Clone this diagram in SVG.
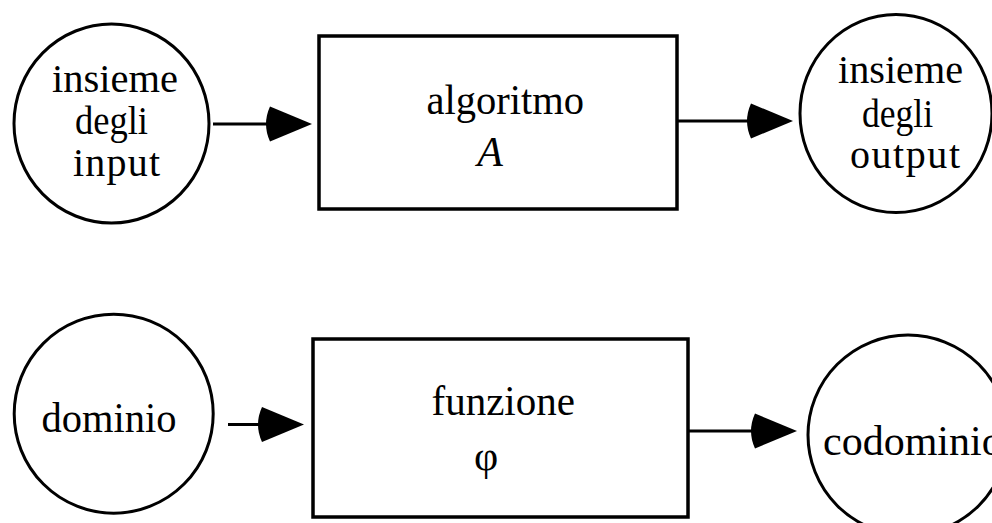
<svg xmlns="http://www.w3.org/2000/svg" width="992" height="523" viewBox="0 0 992 523">
<style>
.node{fill:#fff;stroke:#000;stroke-width:3}
.box{fill:#fff;stroke:#000;stroke-width:3.5}
.t{font-family:"Liberation Serif","Times New Roman",serif;fill:#000}
.c{font-size:40px}
.b{font-size:42px}
.edge{stroke:#000;stroke-width:3;fill:none;marker-end:url(#ah)}
</style>
<defs>
<marker id="ah" markerUnits="userSpaceOnUse" viewBox="-12 -20 54 40" markerWidth="54" markerHeight="40" refX="0" refY="0" orient="auto">
<path d="M40,0 L-2,-17.5 Q-10,0 -2,17.5 Z" fill="#000"/>
</marker>
</defs>
<rect width="992" height="523" fill="#fff"/>
<g id="connectors">
<line class="edge" x1="213" y1="124" x2="272" y2="124"/>
<line class="edge" x1="674" y1="121" x2="753" y2="121"/>
<line class="edge" x1="228" y1="424.5" x2="264" y2="424.5"/>
<line class="edge" x1="685" y1="431" x2="757" y2="431"/>
</g>
<g id="input">
<ellipse class="node" cx="111.5" cy="123.5" rx="97.5" ry="99.5"/>
<text class="t c" x="52" y="92" textLength="126" lengthAdjust="spacingAndGlyphs">insieme</text>
<text class="t c" x="75" y="134" textLength="73" lengthAdjust="spacingAndGlyphs">degli</text>
<text class="t c" x="73" y="176" textLength="87" lengthAdjust="spacing">input</text>
</g>
<g id="algoritmo">
<rect class="box" x="319" y="36" width="358" height="173"/>
<text class="t b" x="426.5" y="114" textLength="157.5" lengthAdjust="spacingAndGlyphs">algoritmo</text>
<text class="t b" x="490" y="166" text-anchor="middle" font-style="italic">A</text>
</g>
<g id="output">
<ellipse class="node" cx="896" cy="113.5" rx="96" ry="99"/>
<text class="t c" x="838" y="83" textLength="125" lengthAdjust="spacingAndGlyphs">insieme</text>
<text class="t c" x="862" y="127" textLength="71" lengthAdjust="spacingAndGlyphs">degli</text>
<text class="t c" x="850" y="168" textLength="110" lengthAdjust="spacing">output</text>
</g>
<g id="dominio">
<ellipse class="node" cx="113.7" cy="413.7" rx="99.5" ry="99.5"/>
<text class="t b" x="41.5" y="432" textLength="135" lengthAdjust="spacingAndGlyphs">dominio</text>
</g>
<g id="funzione">
<rect class="box" x="313" y="339" width="375" height="178"/>
<text class="t b" x="431.5" y="415" textLength="143.5" lengthAdjust="spacingAndGlyphs">funzione</text>
<text class="t b" x="486" y="470" text-anchor="middle">φ</text>
</g>
<g id="codominio">
<circle class="node" cx="908" cy="435" r="100"/>
<text class="t b" x="823" y="455">codominio</text>
</g>
</svg>
